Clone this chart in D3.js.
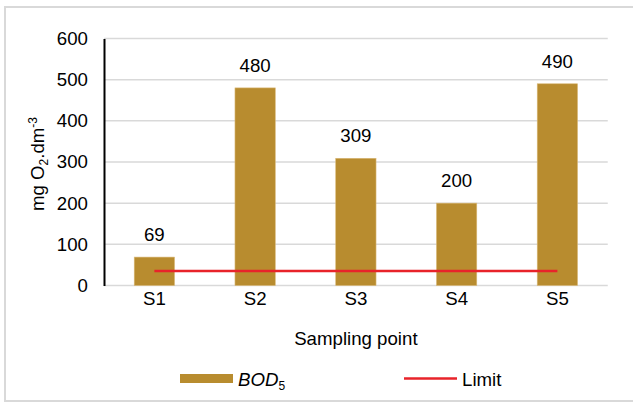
<!DOCTYPE html>
<html><head><meta charset="utf-8">
<script src="https://cdn.jsdelivr.net/npm/d3@7"></script>
<style>body{margin:0;background:#fff}svg{display:block}text{font-family:"Liberation Sans",Arial,sans-serif;fill:#000}</style>
</head><body><svg id="c" width="633" height="403"></svg>
<script>
const categories = ["S1","S2","S3","S4","S5"];
const bodValues = [69,480,309,200,490];
const limitValues = [35,35,35,35,35];
const yTicks = [0,100,200,300,400,500,600];

const FS = "18.67px", SUB = "12px";
const svg = d3.select("#c");
svg.append("rect").attr("x",5).attr("y",7).attr("width",640).attr("height",394)
  .attr("fill","#fff").attr("stroke","#d9d9d9").attr("stroke-width",2);

const m = {l:104, r:607.75, t:38.5, b:285.5};
const x = d3.scaleBand().domain(categories).range([m.l,m.r]).paddingInner(0.6).paddingOuter(0.3);
const y = d3.scaleLinear().domain([0,600]).range([m.b,m.t]);

// gridlines
svg.append("g").selectAll("line").data(yTicks).join("line")
  .attr("x1",m.l).attr("x2",m.r).attr("y1",d=>y(d)).attr("y2",d=>y(d))
  .attr("stroke","#d9d9d9").attr("stroke-width",1.5);

// y axis
const ya = svg.append("g").attr("transform",`translate(${m.l},0)`)
  .call(d3.axisLeft(y).tickValues(yTicks).tickSize(0).tickPadding(16));
ya.select(".domain").attr("stroke","#000").attr("stroke-width",2);
ya.selectAll("text").style("font-size",FS).attr("font-family","Liberation Sans, Arial, sans-serif").attr("fill","#000");

// x axis labels
const xa = svg.append("g").attr("transform",`translate(0,${m.b})`)
  .call(d3.axisBottom(x).tickSize(0).tickPadding(6));
xa.select(".domain").remove();
xa.selectAll("text").style("font-size",FS).attr("font-family","Liberation Sans, Arial, sans-serif").attr("fill","#000");

// bars
svg.append("g").selectAll("rect").data(bodValues).join("rect")
  .attr("x",(d,i)=>x(categories[i])).attr("width",x.bandwidth())
  .attr("y",d=>y(d)).attr("height",d=>y(0)-y(d))
  .attr("fill","#b88c2f").attr("stroke","#d9b877").attr("stroke-width",0.6);

// value labels
svg.append("g").selectAll("text").data(bodValues).join("text")
  .attr("x",(d,i)=>x(categories[i])+x.bandwidth()/2).attr("y",d=>y(d)-16)
  .attr("text-anchor","middle").style("font-size",FS).text(d=>d);

// limit line
const line = d3.line().x((d,i)=>x(categories[i])+x.bandwidth()/2).y(d=>y(d));
svg.append("path").datum(limitValues).attr("d",line)
  .attr("fill","none").attr("stroke","#e8232a").attr("stroke-width",2.5);

// y title
const yt = svg.append("text").attr("transform","translate(44,164) rotate(-90)")
  .attr("text-anchor","middle").style("font-size",FS);
yt.append("tspan").text("mg O");
yt.append("tspan").attr("dy",4).style("font-size",SUB).text("2");
yt.append("tspan").attr("dy",-4).text(".dm");
yt.append("tspan").attr("dy",-7).style("font-size",SUB).text("-3");

// x title
svg.append("text").attr("x",(m.l+m.r)/2).attr("y",345).attr("text-anchor","middle")
  .style("font-size",FS).text("Sampling point");

// legend
svg.append("rect").attr("x",180).attr("y",374).attr("width",53).attr("height",9).attr("fill","#b88c2f");
const lt = svg.append("text").attr("x",238).attr("y",385.5).style("font-size",FS).style("font-style","italic");
lt.append("tspan").text("BOD");
lt.append("tspan").attr("dy",4).style("font-size",SUB).style("font-style","normal").text("5");
svg.append("line").attr("x1",404).attr("x2",457).attr("y1",378.5).attr("y2",378.5)
  .attr("stroke","#e8232a").attr("stroke-width",2.5);
svg.append("text").attr("x",462).attr("y",385.5).style("font-size",FS).text("Limit");
</script></body></html>
